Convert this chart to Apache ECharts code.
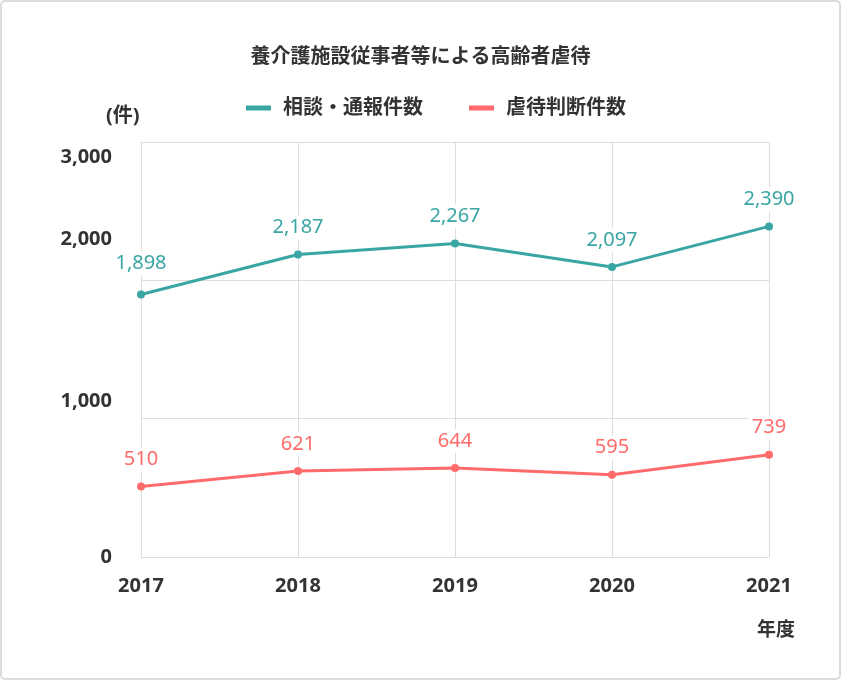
<!DOCTYPE html>
<html>
<head>
<meta charset="utf-8">
<script src="https://cdn.jsdelivr.net/npm/echarts@6/dist/echarts.min.js"></script>
<style>
html,body{margin:0;padding:0;background:#fff;}
#chart{width:841px;height:680px;}
</style>
</head>
<body>
<div id="chart"></div>
<script>
const years = ['2017', '2018', '2019', '2020', '2021'];
const consultations = [1898, 2187, 2267, 2097, 2390];
const abuseCases = [510, 621, 644, 595, 739];
const seriesNames = ['相談・通報件数', '虐待判断件数'];
const yTicks = [0, 1000, 2000, 3000];
const titleText = '養介護施設従事者等による高齢者虐待';

const FONT = '"Noto Sans", "Noto Sans CJK JP", sans-serif';
const TEXT = '#333333';
const GREEN = '#3aa6a4';
const PINK = '#ff6b6b';

// vertical offsets of y-axis labels relative to their gridlines (as in the reference)
const labelShift = {0: 0.5, 1000: -17.5, 2000: -41, 3000: 15.5};
const rich = {};
yTicks.forEach(v => {
  const s = labelShift[v];
  rich['v' + v] = {
    fontFamily: FONT, fontSize: 20, fontWeight: 'bold', color: TEXT,
    padding: s >= 0 ? [2 * s, 0, 0, 0] : [0, 0, -2 * s, 0]
  };
});

const chart = echarts.init(document.getElementById('chart'));

function lineSeries(name, data, color, firstDistance) {
  return {
    name: name,
    type: 'line',
    data: data.map((v, i) => (i === 0 && firstDistance) ? {value: v, label: {distance: firstDistance}} : v),
    symbol: 'circle',
    symbolSize: 8,
    lineStyle: {color: color, width: 3},
    itemStyle: {color: color},
    label: {
      show: true,
      position: 'top',
      distance: 11,
      color: color,
      fontFamily: FONT,
      fontSize: 20,
      backgroundColor: '#fff',
      padding: [2, 4],
      formatter: p => p.value.toLocaleString('en-US')
    },
    emphasis: {disabled: true},
    animation: false
  };
}

chart.setOption({
  backgroundColor: '#fff',
  animation: false,
  title: [
    {text: titleText, left: 'center', top: 42,
     textStyle: {fontFamily: FONT, fontSize: 20, fontWeight: 'bold', color: TEXT}},
    {text: '(件)', left: 101, top: 101,
     textStyle: {fontFamily: FONT, fontSize: 20, fontWeight: 'bold', color: TEXT}},
    {text: '年度', left: 752, top: 616,
     textStyle: {fontFamily: FONT, fontSize: 19, fontWeight: 'bold', color: TEXT}}
  ],
  legend: {
    left: 241, top: 93,
    icon: 'rect',
    itemWidth: 25, itemHeight: 5,
    itemGap: 46,
    data: seriesNames,
    formatter: '{t|{name}}',
    textStyle: {
      fontFamily: FONT, fontSize: 20, fontWeight: 'bold', color: TEXT,
      rich: {t: {fontFamily: FONT, fontSize: 20, fontWeight: 'bold', color: TEXT, padding: [0, 0, 0, 7]}}
    }
  },
  grid: {left: 141, right: 72, top: 142, bottom: 123, containLabel: false},
  xAxis: {
    type: 'category',
    data: years,
    boundaryGap: false,
    axisLine: {show: true, lineStyle: {color: '#dddddd', width: 1}},
    axisTick: {show: false},
    splitLine: {show: true, lineStyle: {color: '#dddddd', width: 1}},
    axisLabel: {margin: 19, fontFamily: FONT, fontSize: 20, fontWeight: 'bold', color: TEXT}
  },
  yAxis: {
    type: 'value',
    min: 0, max: 3000, interval: 1000,
    axisLine: {show: false},
    axisTick: {show: false},
    splitLine: {show: true, lineStyle: {color: '#dddddd', width: 1}},
    axisLabel: {
      margin: 29,
      formatter: v => '{v' + v + '|' + v.toLocaleString('en-US') + '}',
      rich: rich
    }
  },
  graphic: [{
    type: 'rect', silent: true, z: 100,
    shape: {x: 1, y: 1, width: 839, height: 678, r: 4},
    style: {fill: 'none', stroke: '#dcdcdc', lineWidth: 2}
  }],
  series: [
    lineSeries(seriesNames[0], consultations, GREEN, 15),
    lineSeries(seriesNames[1], abuseCases, PINK, 0)
  ]
});
</script>
</body>
</html>
